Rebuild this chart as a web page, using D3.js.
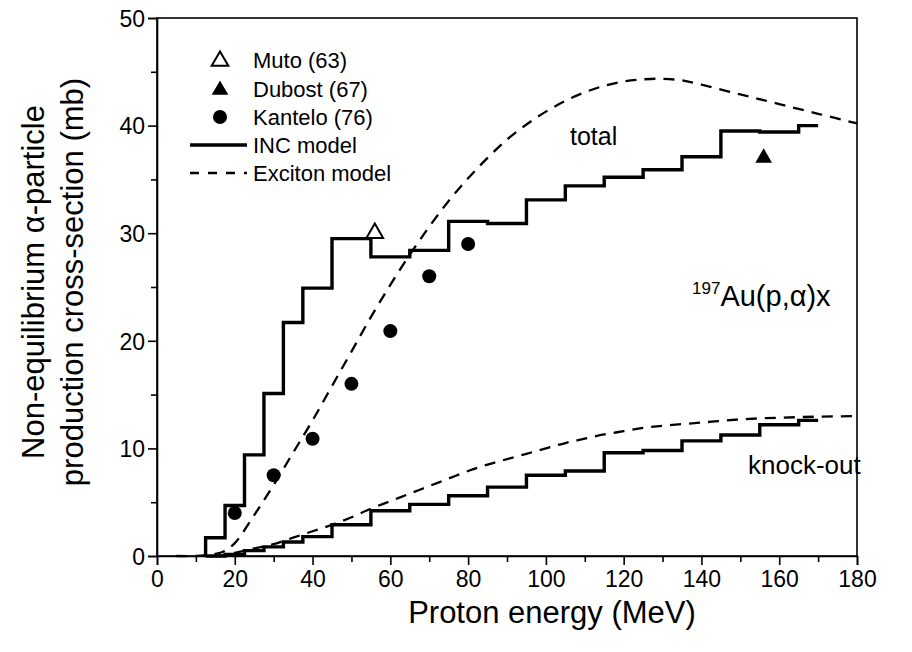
<!DOCTYPE html>
<html><head><meta charset="utf-8">
<script src="https://cdn.jsdelivr.net/npm/d3@7"></script>
<style>body{margin:0;background:#fff}svg{display:block}text{font-family:"Liberation Sans",Arial,sans-serif;fill:#000}</style>
</head><body><svg id="c" width="912" height="652"></svg>
<script>
// ---- data ----
const incEdges = [12.5,17.5,22.5,27.5,32.5,37.5,45,55,65,75,85,95,105,115,125,135,145,155,165,170];
const incTotal = [1.7,4.7,9.4,15.1,21.7,24.9,29.5,27.8,28.4,31.1,30.9,33.1,34.4,35.2,35.9,37.1,39.5,39.4,40.0];
const incKnock = [0,0.15,0.5,0.85,1.3,1.8,2.9,4.2,4.8,5.6,6.4,7.5,7.9,9.6,9.8,10.7,11.25,12.2,12.6];
const excTotalE = [5,10,15,17,20,25,30,35,40,45,50,55,60,65,70,75,80,85,90,95,100,105,110,115,120,125,130,135,140,150,160,170,180];
const excTotalV = [0,0,0.2,0.4,1.2,3.8,6.6,9.6,12.6,15.8,19.0,22.2,25.2,28.0,30.6,33.0,35.1,37.0,38.7,40.1,41.3,42.3,43.1,43.7,44.1,44.3,44.35,44.2,43.8,42.9,42.0,41.1,40.2];
const excKnockE = [15,17,20,25,30,35,40,45,50,55,60,65,70,75,80,85,90,95,100,105,110,115,120,125,130,140,150,160,170,180];
const excKnockV = [0,0.05,0.3,0.7,1.1,1.7,2.3,2.9,3.6,4.4,5.1,5.8,6.5,7.2,7.9,8.5,9.0,9.5,10.0,10.5,10.9,11.3,11.6,11.9,12.1,12.4,12.7,12.85,12.95,13.0];
const mutoE = [56], mutoV = [30];
const dubostE = [156], dubostV = [37];
const kanteloE = [20,30,40,50,60,70,80];
const kanteloV = [4.0,7.5,10.9,16.0,20.9,26.0,29.0];
const xTicks = [0,20,40,60,80,100,120,140,160,180];
const yTicks = [0,10,20,30,40,50];
const legendLabels = ["Muto (63)","Dubost (67)","Kantelo (76)","INC model","Exciton model"];

// ---- chart ----
const svg = d3.select("#c");
const L=157,R=857,T=18,B=556;
const x = d3.scaleLinear().domain([0,180]).range([L,R]);
const y = d3.scaleLinear().domain([0,50]).range([B,T]);

svg.append("rect").attr("x",0).attr("y",0).attr("width",912).attr("height",652).attr("fill","#fff");

// frame
svg.append("rect").attr("x",L).attr("y",T).attr("width",R-L).attr("height",B-T)
  .attr("fill","none").attr("stroke","#000").attr("stroke-width",1.6);

// x axis
const xa = svg.append("g").attr("transform",`translate(0,${B})`)
  .call(d3.axisBottom(x).tickValues(d3.range(0,181,10)).tickSize(9).tickFormat(d=>xTicks.includes(d)?d:""));
xa.select(".domain").attr("stroke-width",1.6);
xa.selectAll(".tick line").attr("stroke-width",1.6).attr("y2",d=>xTicks.includes(d)?9:6);
xa.selectAll(".tick text").attr("font-size",23).attr("font-family","Liberation Sans, Arial").attr("dy","0.95em").attr("y",9);

const ya = svg.append("g").attr("transform",`translate(${L},0)`)
  .call(d3.axisLeft(y).tickValues(d3.range(0,51,5)).tickSize(9).tickFormat(d=>yTicks.includes(d)?d:""));
ya.select(".domain").attr("stroke-width",1.6);
ya.selectAll(".tick line").attr("stroke-width",1.6).attr("x2",d=>yTicks.includes(d)?-9:-6);
ya.selectAll(".tick text").attr("font-size",23).attr("font-family","Liberation Sans, Arial").attr("x",-12).attr("dy","0.36em");

// axis titles
svg.append("text").attr("x",552).attr("y",623).attr("text-anchor","middle").attr("font-size",31).text("Proton energy (MeV)");
const yt = svg.append("text").attr("transform","translate(0,282) rotate(-90)").attr("text-anchor","middle").attr("font-size",31);
yt.append("tspan").attr("x",0).attr("y",44).text("Non-equilibrium α-particle");
yt.append("tspan").attr("x",0).attr("y",83).text("production cross-section (mb)");

// step lines
function stepPts(edges, vals){
  const p=[[edges[0],0]];
  vals.forEach((v,i)=>{p.push([edges[i],v]);p.push([edges[i+1],v]);});
  return p;
}
const line = d3.line().x(d=>x(d[0])).y(d=>y(d[1]));
const g = svg.append("g");
g.append("path").attr("d",line(stepPts(incEdges,incTotal))).attr("fill","none").attr("stroke","#000").attr("stroke-width",3.4).attr("stroke-linejoin","miter");
g.append("path").attr("d",line(stepPts(incEdges,incKnock))).attr("fill","none").attr("stroke","#000").attr("stroke-width",3.4);

const cl = d3.line().x(d=>x(d[0])).y(d=>y(d[1])).curve(d3.curveCatmullRom.alpha(0.5));
g.append("path").attr("d",cl(excTotalE.map((e,i)=>[e,excTotalV[i]]))).attr("fill","none").attr("stroke","#000").attr("stroke-width",2.3).attr("stroke-dasharray","11,8");
g.append("path").attr("d",cl(excKnockE.map((e,i)=>[e,excKnockV[i]]))).attr("fill","none").attr("stroke","#000").attr("stroke-width",2.3).attr("stroke-dasharray","11,8");

// points
const tri = d3.symbol().type(d3.symbolTriangle).size(120);
g.selectAll(".muto").data(mutoE).join("path").attr("transform",(d,i)=>`translate(${x(d)},${y(mutoV[i])})`).attr("d",tri).attr("fill","#fff").attr("stroke","#000").attr("stroke-width",2);
g.selectAll(".dub").data(dubostE).join("path").attr("transform",(d,i)=>`translate(${x(d)},${y(dubostV[i])})`).attr("d",tri).attr("fill","#000");
g.selectAll(".kan").data(kanteloE).join("circle").attr("cx",d=>x(d)).attr("cy",(d,i)=>y(kanteloV[i])).attr("r",7).attr("fill","#000");

// annotations
svg.append("text").attr("x",570).attr("y",145).attr("font-size",25).text("total");
svg.append("text").attr("x",748).attr("y",474).attr("font-size",26).text("knock-out");
const au = svg.append("text").attr("x",692).attr("y",306).attr("font-size",29);
au.append("tspan").attr("font-size",17).attr("dy",-12).text("197");
au.append("tspan").attr("dy",12).text("Au(p,α)x");

// legend
const lg = svg.append("g");
const rowsY = [60,89,117,145,173];
lg.append("path").attr("transform",`translate(220,${rowsY[0]+1})`).attr("d",tri).attr("fill","#fff").attr("stroke","#000").attr("stroke-width",2);
lg.append("path").attr("transform",`translate(220,${rowsY[1]+1})`).attr("d",tri).attr("fill","#000");
lg.append("circle").attr("cx",220).attr("cy",rowsY[2]).attr("r",7).attr("fill","#000");
lg.append("line").attr("x1",190).attr("x2",247).attr("y1",rowsY[3]).attr("y2",rowsY[3]).attr("stroke","#000").attr("stroke-width",3.4);
lg.append("line").attr("x1",190).attr("x2",247).attr("y1",rowsY[4]).attr("y2",rowsY[4]).attr("stroke","#000").attr("stroke-width",2.3).attr("stroke-dasharray","9,9");
legendLabels.forEach((t,i)=>lg.append("text").attr("x",253).attr("y",rowsY[i]).attr("dy","0.36em").attr("font-size",22).text(t));
</script></body></html>
